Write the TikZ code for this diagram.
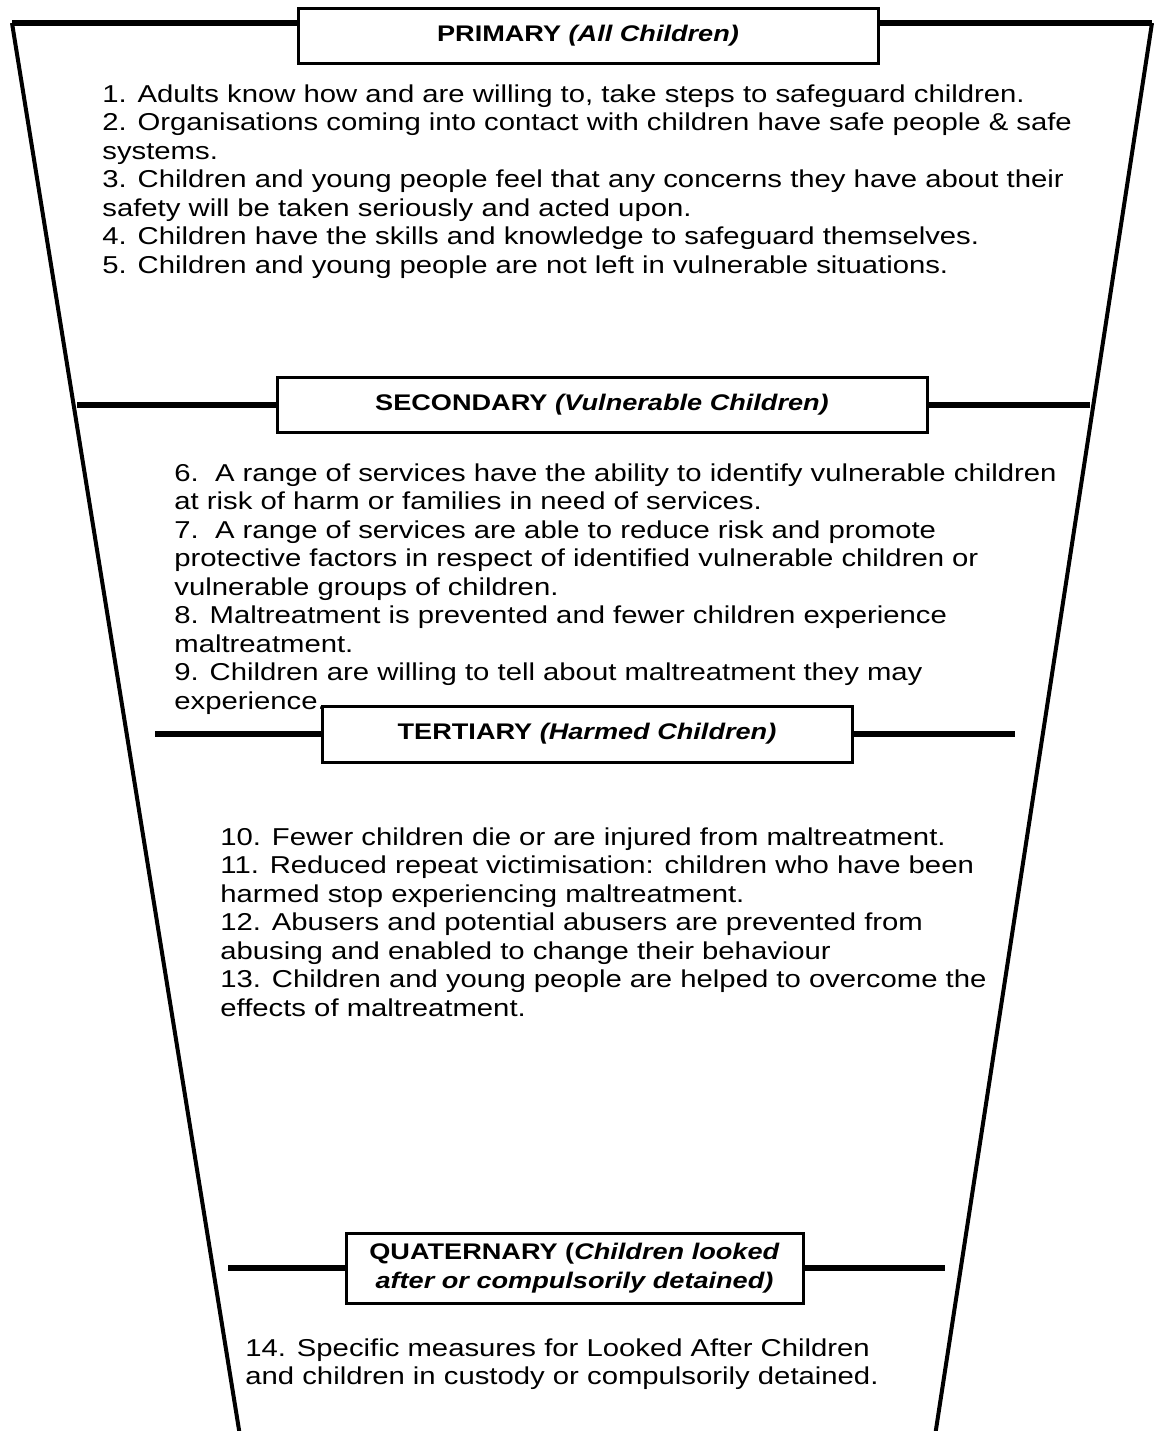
\documentclass[tikz,border=0pt]{standalone}
\usepackage{fontspec}
\setmainfont{Liberation Sans}[FakeStretch=1.2]
\usepackage{tikz}

\begin{document}
\begin{tikzpicture}
  [x=0.5pt,y=-0.5pt,every node/.style={font=\fontsize{12.2}{14.25}\selectfont},
   head/.style={draw,line width=1.5pt,fill=white,align=center,inner sep=0pt,font=\fontsize{11.3}{14.25}\selectfont\bfseries},
   txt/.style={anchor=base west,align=left,inner sep=0pt},
   side/.style={line width=2pt},hline/.style={line width=3pt}]
  \useasboundingbox (0,0) rectangle (1157,1431);

  \coordinate (tl) at (12,23);
  \coordinate (tr) at (1152,23);
  \coordinate (bl) at (240,1436);
  \coordinate (br) at (935,1436);
  \coordinate (2l) at (77,405);
  \coordinate (2r) at (1090,405);
  \coordinate (3l) at (155,734);
  \coordinate (3r) at (1015,734);
  \coordinate (4l) at (228,1268);
  \coordinate (4r) at (945,1268);

  \draw[side] (tl) -- (bl);
  \draw[side] (tr) -- (br);

  \node[head,minimum width=290pt,minimum height=27.5pt] (1) at (588,35.5) {PRIMARY \textit{(All Children)}};
  \node[head,minimum width=325pt,minimum height=27.5pt] (2) at (602,405) {SECONDARY \textit{(Vulnerable Children)}};
  \node[head,minimum width=265pt,minimum height=28pt] (3) at (587,734) {TERTIARY \textit{(Harmed Children)}};
  \node[head,minimum width=228.5pt,minimum height=35pt] (4) at (574.5,1268) {QUATERNARY (\textit{Children looked}\\\textit{after or compulsorily detained)}};

  \foreach \from/\to in {tl/1.west|-tl,1.east|-tr/tr,2l/2.west,2.east/2r,3l/3.west,3.east/3r,4l/4.west,4.east/4r}
    \draw[hline] (\from) -- (\to);

  % anchored at the baseline of the last line
  \node[txt] (t1) at (102,273) {1. Adults know how and are willing to, take steps to safeguard children.\\
    2. Organisations coming into contact with children have safe people \& safe\\
    systems.\\
    3. Children and young people feel that any concerns they have about their\\
    safety will be taken seriously and acted upon.\\
    4. Children have the skills and knowledge to safeguard themselves.\\
    5. Children and young people are not left in vulnerable situations.};

  \node[txt] (t2) at (174,709) {6.\ \ A range of services have the ability to identify vulnerable children\\
    at risk of harm or families in need of services.\\
    7.\ \ A range of services are able to reduce risk and promote\\
    protective factors in respect of identified vulnerable children or\\
    vulnerable groups of children.\\
    8. Maltreatment is prevented and fewer children experience\\
    maltreatment.\\
    9. Children are willing to tell about maltreatment they may\\
    experience.};

  \node[txt] (t3) at (220,1016) {10. Fewer children die or are injured from maltreatment.\\
    11. Reduced repeat victimisation: children who have been\\
    harmed stop experiencing maltreatment.\\
    12. Abusers and potential abusers are prevented from\\
    abusing and enabled to change their behaviour\\
    13. Children and young people are helped to overcome the\\
    effects of maltreatment.};

  \node[txt] (t4) at (245,1384.5) {14. Specific measures for Looked After Children\\
    and children in custody or compulsorily detained.};

\end{tikzpicture}
\end{document}
